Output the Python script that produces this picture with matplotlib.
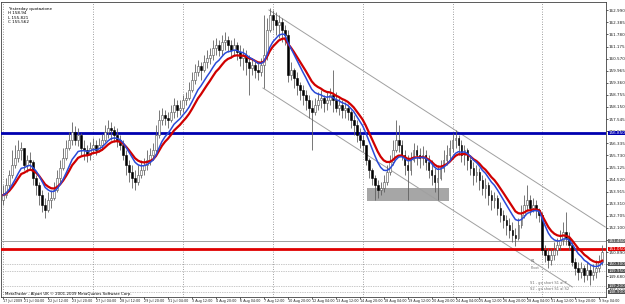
import numpy as np
import pandas as pd
import matplotlib
matplotlib.use("Agg")
from matplotlib import pyplot as plt

# H4 bars (close / high / low)
close = [153.75, 154.25, 154.75, 155.25, 155.60, 156.00, 156.10, 155.25, 155.50, 155.40,
         154.60, 154.25, 153.75, 153.25, 153.00, 153.50, 153.60, 154.00, 154.60, 155.10,
         155.60, 156.10, 156.50, 156.90, 156.50, 156.75, 156.10, 156.00, 155.75, 156.10,
         156.25, 156.00, 156.25, 156.50, 156.90, 157.10, 157.00, 156.75, 156.50, 156.25,
         155.75, 155.25, 154.90, 154.60, 154.40, 154.75, 155.00, 155.25, 155.50, 155.75,
         156.00, 156.75, 157.50, 157.75, 157.60, 157.50, 157.90, 158.25, 158.00, 158.10,
         158.50, 158.60, 159.00, 159.50, 159.90, 160.20, 160.00, 160.40, 160.60, 160.75,
         161.10, 161.25, 161.00, 161.40, 161.50, 161.25, 161.00, 161.25, 160.90, 160.60,
         160.75, 160.40, 160.10, 160.25, 160.00, 159.90, 160.25, 160.75, 162.00, 162.75,
         162.50, 162.25, 162.40, 162.00, 161.75, 159.75, 160.00, 159.60, 159.25, 159.00,
         158.75, 158.50, 158.10, 157.90, 158.25, 158.50, 158.60, 158.35, 158.50, 158.75,
         158.50, 158.10, 158.25, 158.00, 158.10, 157.90, 157.50, 157.25, 156.75, 156.50,
         156.25, 155.50, 155.00, 154.60, 154.25, 154.00, 154.10, 154.40, 154.90, 155.40,
         156.00, 156.50, 156.25, 155.75, 155.25, 155.00, 155.50, 156.00, 155.75, 155.60,
         155.75, 155.40, 155.00, 154.75, 154.40, 154.60, 155.10, 155.50, 155.75, 156.10,
         156.50, 156.60, 156.25, 155.75, 156.00, 155.50, 155.10, 154.75, 154.90, 154.50,
         154.10, 154.25, 153.75, 153.50, 153.60, 153.10, 152.75, 152.50, 152.25, 152.00,
         151.75, 151.60, 152.25, 152.75, 153.25, 153.50, 153.10, 153.25, 153.00, 152.75,
         151.00, 150.75, 150.50, 150.75, 151.00, 151.25, 151.50, 151.90, 151.60, 151.25,
         150.40, 150.10, 149.90, 150.10, 149.75, 150.00, 149.75, 149.90, 150.10, 150.40,
         150.90]
high = [154.25, 154.60, 155.00, 156.00, 156.25, 156.50, 156.40, 156.00, 155.75, 155.90,
        155.50, 154.75, 154.40, 154.00, 153.60, 153.90, 154.00, 154.40, 155.00, 155.50,
        156.10, 156.50, 156.90, 157.40, 157.20, 157.10, 156.85, 156.50, 156.25, 156.40,
        156.60, 156.50, 156.60, 156.80, 157.25, 157.50, 157.40, 157.20, 157.10, 156.75,
        156.50, 156.00, 155.50, 155.25, 155.00, 155.25, 155.50, 155.60, 156.00, 156.10,
        156.35, 157.25, 158.00, 158.10, 158.00, 157.90, 158.25, 158.60, 158.50, 158.50,
        158.75, 158.90, 159.40, 159.90, 160.30, 160.50, 160.40, 160.75, 161.00, 161.10,
        161.50, 161.60, 161.50, 161.75, 161.90, 161.70, 161.50, 161.60, 161.40, 161.25,
        161.10, 161.00, 160.75, 160.60, 160.50, 160.40, 160.60, 162.75, 162.60, 163.10,
        163.00, 162.90, 162.75, 162.60, 162.25, 162.00, 160.40, 160.10, 159.90, 159.40,
        159.25, 159.00, 158.75, 158.50, 158.60, 158.90, 159.00, 158.75, 158.90, 159.10,
        160.00, 158.90, 158.60, 158.50, 158.40, 158.30, 158.00, 157.75, 157.50, 157.10,
        156.75, 156.10, 155.60, 155.10, 154.75, 154.50, 154.40, 154.75, 155.25, 155.75,
        156.50, 157.50, 157.25, 156.50, 156.00, 155.75, 155.90, 156.35, 156.25, 156.10,
        156.20, 156.00, 155.75, 155.50, 155.10, 155.25, 155.50, 156.00, 156.25, 156.50,
        156.85, 157.00, 156.75, 156.50, 156.25, 156.10, 155.75, 155.40, 155.25, 155.10,
        154.75, 154.60, 154.40, 154.00, 153.90, 153.75, 153.40, 153.00, 152.75, 152.60,
        152.40, 152.10, 152.60, 153.25, 153.75, 154.25, 153.75, 153.60, 153.50, 153.10,
        152.90, 151.25, 151.10, 151.10, 151.40, 151.60, 152.00, 152.40, 152.90, 151.90,
        151.40, 150.60, 150.40, 150.40, 150.25, 150.40, 150.25, 150.30, 150.50, 150.75,
        151.25]
low = [153.25, 153.60, 154.00, 154.60, 155.10, 155.40, 155.50, 155.00, 154.90, 155.00,
       154.25, 153.75, 153.25, 152.90, 152.60, 152.90, 153.10, 153.50, 153.90, 154.40,
       155.00, 155.50, 156.00, 156.25, 156.25, 156.20, 155.75, 155.50, 155.40, 155.50,
       155.90, 155.75, 155.90, 156.00, 156.40, 156.60, 156.50, 156.40, 156.15, 156.00,
       155.50, 154.75, 154.40, 154.10, 154.00, 154.25, 154.60, 154.75, 155.00, 155.25,
       155.50, 155.90, 156.60, 157.25, 157.25, 157.10, 157.40, 157.60, 157.65, 157.75,
       157.90, 158.25, 158.50, 158.90, 159.30, 159.70, 159.50, 159.90, 160.10, 160.30,
       160.50, 160.75, 160.70, 160.75, 161.00, 160.90, 160.60, 160.75, 160.50, 160.20,
       160.00, 159.75, 158.75, 159.75, 159.60, 159.50, 159.70, 159.10, 160.50, 161.90,
       162.00, 161.75, 161.60, 161.40, 161.25, 159.40, 159.50, 159.10, 158.75, 158.50,
       158.25, 158.00, 157.60, 156.00, 157.75, 158.00, 158.10, 157.90, 158.00, 158.25,
       157.90, 157.90, 157.75, 157.60, 157.60, 157.50, 157.10, 156.75, 156.40, 156.10,
       155.90, 155.25, 154.60, 154.25, 153.50, 153.60, 153.75, 153.90, 154.25, 154.75,
       155.25, 155.90, 155.90, 155.50, 154.75, 153.50, 154.75, 155.40, 155.25, 155.10,
       155.25, 155.00, 154.60, 154.25, 153.90, 153.50, 154.50, 154.90, 155.25, 155.50,
       155.90, 156.10, 155.75, 155.40, 155.25, 155.00, 154.75, 154.25, 154.40, 154.00,
       153.75, 153.60, 153.25, 153.00, 153.10, 152.75, 152.40, 152.10, 151.75, 151.60,
       151.40, 151.20, 151.50, 152.10, 152.60, 153.00, 152.75, 152.90, 152.60, 152.40,
       150.75, 150.40, 150.10, 150.25, 150.50, 150.75, 151.00, 151.25, 151.25, 151.00,
       150.20, 149.75, 149.50, 149.60, 149.40, 149.50, 149.25, 149.50, 149.60, 149.90,
       150.25]
first_open = 153.50

# axis labels
time_pos = [0] + [7 + 8 * k for k in range(25)]
time_labels = ["17 Jul 2009", "21 Jul 04:00", "22 Jul 12:00", "23 Jul 20:00", "27 Jul 04:00",
               "28 Jul 12:00", "29 Jul 20:00", "31 Jul 04:00", "3 Aug 12:00", "4 Aug 20:00",
               "6 Aug 04:00", "7 Aug 12:00", "10 Aug 20:00", "12 Aug 04:00", "13 Aug 12:00",
               "14 Aug 20:00", "18 Aug 04:00", "19 Aug 12:00", "20 Aug 20:00", "24 Aug 04:00",
               "25 Aug 12:00", "26 Aug 20:00", "28 Aug 04:00", "31 Aug 12:00", "1 Sep 20:00",
               "3 Sep 04:00"]
price_ticks = [162.990 - 0.605 * k for k in range(24)]
week_starts = [0, 30, 60, 90, 120, 150, 180]

blue_level = 156.85
red_level = 151.05
grey_level = 151.45
pivot_levels = [150.30, 149.95, 149.20, 148.90]   # dotted pivot lines at the bottom
pivot_labels = ["R1", "Pivot", "S1 - go short S1 al P", "S2 - go short S1 al S2"]
box = (121.3, 148.7, 153.45, 154.10)   # idx from, idx to, price low, price high
chan_top = [(88.7, 163.00), (201.0, 152.15)]
chan_low = [(86.7, 159.10), (190.0, 149.15)]

close = np.array(close)
high = np.array(high)
low = np.array(low)
opn = np.r_[first_open, close[:-1]]
n = len(close)
idx = np.arange(n)
high = np.maximum(high, np.maximum(opn, close))
low = np.minimum(low, np.minimum(opn, close))

ma_fast = pd.Series(close).ewm(span=9, adjust=False).mean()
ma_slow = pd.Series(close).ewm(span=13, adjust=False).mean()

plt.rcParams['font.family'] = ['DejaVu Sans']
fig = plt.figure(figsize=(6.25, 3.04), dpi=100)
ax = fig.add_axes([0.002, 7 / 304, 0.968, 295 / 304])
y0, y1 = 148.65, 163.40
ax.set_xlim(-0.67, 201.33)
ax.set_ylim(y0, y1)

for w in week_starts:
    ax.axvline(w, color="#808080", lw=0.6, ls=(0, (1, 2)), zorder=1)

ax.fill_between([box[0], box[1]], box[2], box[3], color="#a6a6a6", lw=0, zorder=1)

ax.plot(*zip(*chan_top), color="#a0a0a0", lw=0.7, zorder=2)
ax.plot(*zip(*chan_low), color="#a0a0a0", lw=0.7, zorder=2)

ax.axhline(blue_level, color="#0000b0", lw=2.0, zorder=3)
ax.axhline(grey_level, color="#909090", lw=0.6, zorder=3)
ax.axhline(red_level, color="#e00000", lw=2.0, zorder=3)
for lvl, lab in zip(pivot_levels, pivot_labels):
    ax.axhline(lvl, color="#909090", lw=0.5, ls=(0, (1, 1.5)), zorder=3)
    ax.text(176, lvl + 0.05, lab, fontsize=2.6, color="#707070", va="bottom", ha="left", zorder=3)

ax.vlines(idx, low, high, color="#606060", lw=0.6, zorder=4)
up = close >= opn
body_lo = np.minimum(opn, close)
body_h = np.maximum(np.abs(close - opn), 0.03)
ax.bar(idx[up], body_h[up], bottom=body_lo[up], width=0.6, color="white",
       edgecolor="#505050", lw=0.4, zorder=5)
ax.bar(idx[~up], body_h[~up], bottom=body_lo[~up], width=0.6, color="black",
       edgecolor="black", lw=0.4, zorder=5)

ax.plot(idx, ma_slow, color="#d00000", lw=1.6, zorder=6)
ax.plot(idx, ma_fast, color="#2a4ad8", lw=1.1, zorder=7)

ax.yaxis.tick_right()
ax.set_yticks(price_ticks)
ax.set_yticklabels(["%.3f" % p for p in price_ticks], fontsize=3.0)
ax.set_xticks(time_pos)
ax.set_xticklabels(time_labels, fontsize=2.4, ha="left")
ax.tick_params(axis="both", length=1.2, width=0.5, pad=0.3, colors="#202020")
ax.tick_params(axis="y", pad=0.8)
for s in ax.spines.values():
    s.set_linewidth(0.6)
    s.set_color("#404040")

tag = [(blue_level, "#0000b0"), (red_level, "#e00000"), (grey_level, "#707070")]
tag += [(p, "#505050") for p in pivot_levels]
for lvl, fc in tag:
    ax.text(1.004, (lvl - y0) / (y1 - y0), "%.3f" % lvl, transform=ax.transAxes,
            fontsize=3.0, color="white", va="center", ha="left", zorder=10,
            bbox=dict(boxstyle="square,pad=0.1", fc=fc, ec="none"))

ax.text(1.5, 163.15, "Yesterday quotazione\nH 158.94\nL 155.821\nC 155.562", fontsize=3.0,
        va="top", ha="left", linespacing=1.15)
ax.text(0.5, 148.78, "MetaTrader - Alpari UK © 2001-2009 MetaQuotes Software Corp.", fontsize=2.8,
        va="center", ha="left")

plt.savefig("out.png", dpi=100)
